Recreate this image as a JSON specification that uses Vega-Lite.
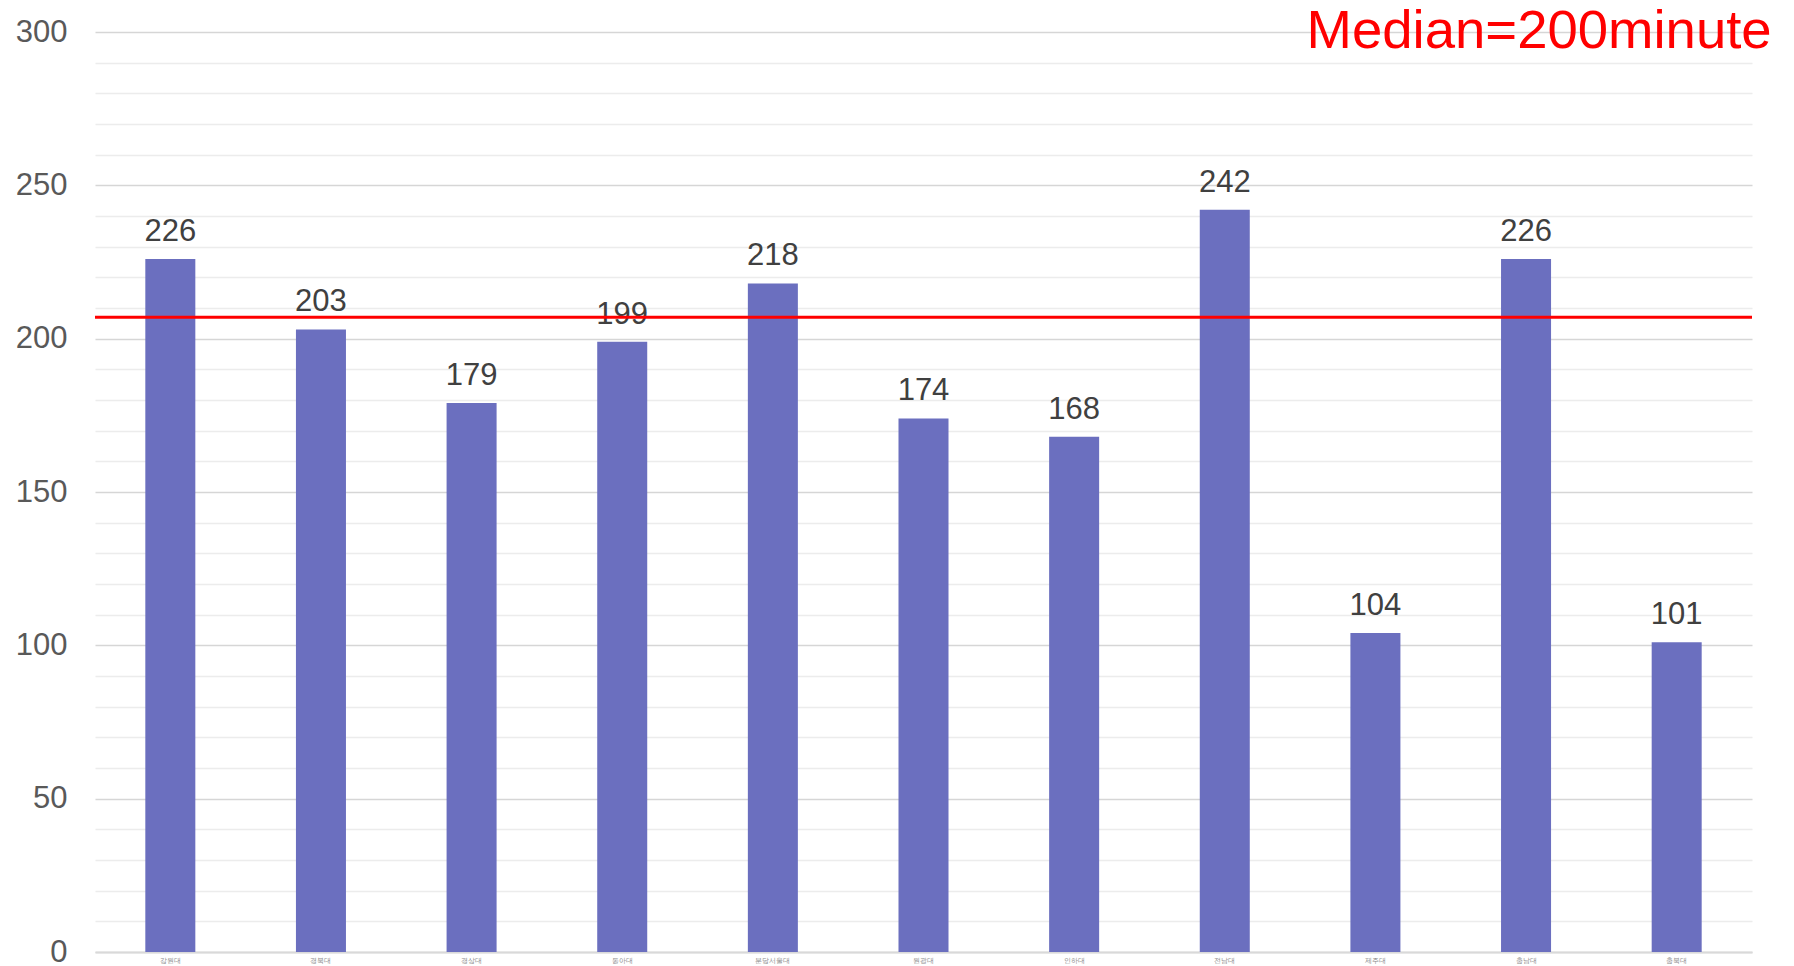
{
  "$schema": "https://vega.github.io/schema/vega-lite/v6.json",
  "autosize": "none",
  "padding": {"left": 95, "top": 32, "right": 42, "bottom": 14},
  "width": 1657,
  "height": 920,
  "background": "white",
  "config": {
    "font": "Liberation Sans",
    "view": {"stroke": null}
  },
  "datasets": {
    "bars": [
      {"hospital": "강원대", "minutes": 226},
      {"hospital": "경북대", "minutes": 203},
      {"hospital": "경상대", "minutes": 179},
      {"hospital": "동아대", "minutes": 199},
      {"hospital": "분당서울대", "minutes": 218},
      {"hospital": "원광대", "minutes": 174},
      {"hospital": "인하대", "minutes": 168},
      {"hospital": "전남대", "minutes": 242},
      {"hospital": "제주대", "minutes": 104},
      {"hospital": "충남대", "minutes": 226},
      {"hospital": "충북대", "minutes": 101}
    ],
    "median": [{"label": "Median=200minute", "line": 207, "top": 300, "anchor": "충북대"}]
  },
  "layer": [
    {
      "data": {"name": "bars"},
      "mark": {"type": "bar", "color": "#6B6FBF"},
      "encoding": {
        "x": {
          "field": "hospital", "type": "nominal", "sort": null,
          "scale": {"paddingInner": 0.668, "paddingOuter": 0.334},
          "axis": {
            "title": null, "labelAngle": 0, "labelFontSize": 7, "labelColor": "#8a8a8a",
            "ticks": false, "labelPadding": 4, "domainColor": "#d9d9d9", "domainWidth": 2
          }
        },
        "y": {
          "field": "minutes", "type": "quantitative",
          "scale": {"domain": [0, 300], "nice": false},
          "axis": {
            "title": null,
            "values": [0,10,20,30,40,50,60,70,80,90,100,110,120,130,140,150,160,170,180,190,200,210,220,230,240,250,260,270,280,290,300],
            "tickCount": 40,
            "labelExpr": "datum.value % 50 === 0 ? datum.label : ''",
            "labelOverlap": false,
            "labelFontSize": 31, "labelColor": "#595959", "labelPadding": 28,
            "ticks": false, "domain": false,
            "gridColor": {"condition": {"test": "datum.value % 50 === 0", "value": "#d6d6d6"}, "value": "#ececec"},
            "gridWidth": 1.5
          }
        }
      }
    },
    {
      "data": {"name": "bars"},
      "mark": {"type": "text", "fontSize": 31, "color": "#404040", "baseline": "alphabetic", "dy": -18},
      "encoding": {
        "x": {"field": "hospital", "type": "nominal", "sort": null},
        "y": {"field": "minutes", "type": "quantitative"},
        "text": {"field": "minutes", "type": "quantitative"}
      }
    },
    {
      "data": {"name": "median"},
      "mark": {"type": "rule", "color": "#FF0000", "strokeWidth": 3},
      "encoding": {
        "y": {"field": "line", "type": "quantitative"}
      }
    },
    {
      "data": {"name": "median"},
      "mark": {"type": "text", "fontSize": 54.5, "color": "#FF0000", "align": "right", "baseline": "alphabetic", "dx": 95, "dy": 16},
      "encoding": {
        "x": {"field": "anchor", "type": "nominal"},
        "y": {"field": "top", "type": "quantitative"},
        "text": {"field": "label"}
      }
    }
  ]
}
